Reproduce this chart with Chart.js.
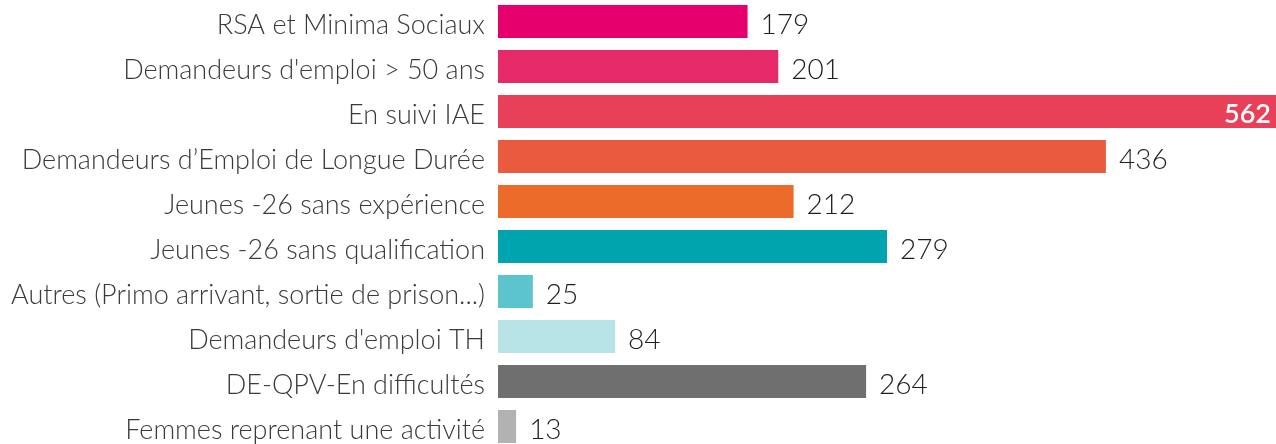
<!DOCTYPE html>
<html>
<head>
<meta charset="utf-8">
<script src="https://cdn.jsdelivr.net/npm/chart.js@4.4.1/dist/chart.umd.min.js"></script>
<style>
  html, body { margin: 0; padding: 0; background: #fff; overflow: hidden; }
  #wrap { position: absolute; left: 0; top: -1px; width: 1276px; height: 450px; }
</style>
</head>
<body>
<div id="wrap"><canvas id="c"></canvas></div>
<script>
const categories = [
  "RSA et Minima Sociaux",
  "Demandeurs d'emploi > 50 ans",
  "En suivi IAE",
  "Demandeurs d\u2019Emploi de Longue Durée",
  "Jeunes -26 sans expérience",
  "Jeunes -26 sans qualification",
  "Autres (Primo arrivant, sortie de prison...)",
  "Demandeurs d'emploi TH",
  "DE-QPV-En difficultés",
  "Femmes reprenant une activité"
];
const values = [179, 201, 562, 436, 212, 279, 25, 84, 264, 13];
const barColors = ["#E5006D", "#E62A69", "#E74058", "#EA5A3E", "#EC6A2A", "#00A4AF", "#5CC4CD", "#B8E4E7", "#6F6F6F", "#B2B2B2"];
const xMax = 558;

const valueLabels = {
  id: 'valueLabels',
  afterDatasetsDraw(chart) {
    const ctx = chart.ctx;
    const area = chart.chartArea;
    const meta = chart.getDatasetMeta(0);
    ctx.save();
    ctx.textBaseline = 'middle';
    meta.data.forEach((bar, i) => {
      const txt = String(values[i]);
      const y = bar.y + 3;
      if (bar.x + 60 > area.right) {
        ctx.font = '600 27px Lato';
        ctx.fillStyle = '#ffffff';
        ctx.textAlign = 'right';
        ctx.fillText(txt, area.right - 5, y);
      } else {
        ctx.font = '300 28px Lato';
        ctx.fillStyle = '#1e1e1e';
        ctx.textAlign = 'left';
        ctx.fillText(txt, bar.x + 13, y);
      }
    });
    ctx.restore();
  }
};

new Chart(document.getElementById('c'), {
  type: 'bar',
  data: {
    labels: categories,
    datasets: [{
      data: values,
      backgroundColor: barColors,
      borderWidth: 0,
      categoryPercentage: 1,
      barPercentage: 0.733
    }]
  },
  options: {
    indexAxis: 'y',
    responsive: true,
    maintainAspectRatio: false,
    animation: false,
    layout: { padding: 0 },
    plugins: { legend: { display: false }, tooltip: { enabled: false } },
    scales: {
      x: { display: false, min: 0, max: xMax },
      y: {
        grid: { display: false, drawTicks: false },
        border: { display: false },
        ticks: {
          padding: 13,
          color: '#3a3a3a',
          font: { family: 'Lato', weight: '300', size: 27 },
          labelOffset: 4
        },
        afterFit(scale) {
          scale.width = 498;
          scale.paddingTop = 0;
          scale.paddingBottom = 0;
        }
      }
    }
  },
  plugins: [valueLabels]
});
</script>
</body>
</html>
